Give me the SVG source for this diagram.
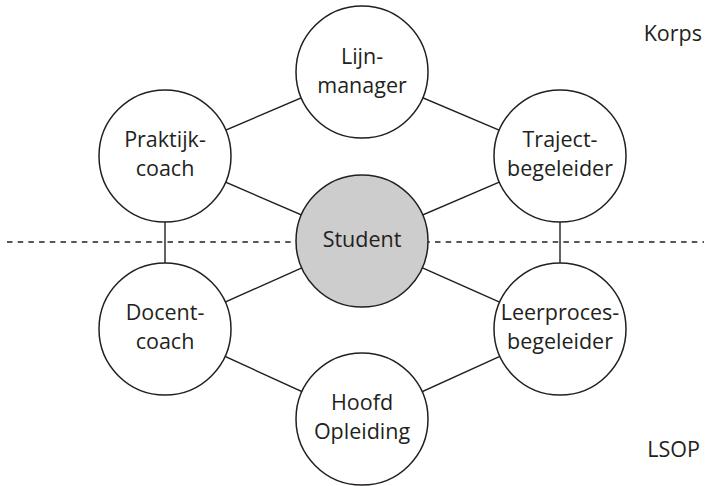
<svg xmlns="http://www.w3.org/2000/svg" width="707" height="486" viewBox="0 0 707 486">
  <style>
    .bg { fill: #ffffff; }
    .edge { stroke: #231f20; stroke-width: 1.4; fill: none; }
    .divider { stroke: #231f20; stroke-width: 1.4; stroke-dasharray: 5.5 5.2; fill: none; }
    .node { fill: #ffffff; stroke: #231f20; stroke-width: 1.5; }
    .node.center { fill: #cdcdcd; }
    text { font-family: "Open Sans", "Noto Sans", "Liberation Sans", sans-serif; font-size: 21.5px; fill: #231f20; }
    .lbl { text-anchor: middle; }
    .zone { text-anchor: end; }
  </style>
  <rect class="bg" x="0" y="0" width="707" height="486"/>

  <!-- boundary between Korps (top) and LSOP (bottom) -->
  <line class="divider" x1="7" y1="242" x2="704" y2="242"/>

  <g id="connectors">
    <line class="edge" x1="362" y1="72" x2="165" y2="156"/>
    <line class="edge" x1="362" y1="72" x2="560" y2="156"/>
    <line class="edge" x1="165" y1="156" x2="362" y2="241"/>
    <line class="edge" x1="560" y1="156" x2="362" y2="241"/>
    <line class="edge" x1="165" y1="156" x2="165" y2="329"/>
    <line class="edge" x1="560" y1="156" x2="560" y2="329"/>
    <line class="edge" x1="165" y1="329" x2="362" y2="241"/>
    <line class="edge" x1="560" y1="329" x2="362" y2="241"/>
    <line class="edge" x1="165" y1="329" x2="362" y2="419"/>
    <line class="edge" x1="560" y1="329" x2="362" y2="419"/>
  </g>

  <g id="lijnmanager">
    <circle class="node" cx="362" cy="72" r="66"/>
    <text class="lbl" x="362" y="64">Lijn-</text>
    <text class="lbl" x="362" y="93">manager</text>
  </g>

  <g id="praktijkcoach">
    <circle class="node" cx="165" cy="156" r="66"/>
    <text class="lbl" x="165" y="147">Praktijk-</text>
    <text class="lbl" x="165" y="176">coach</text>
  </g>

  <g id="trajectbegeleider">
    <circle class="node" cx="560" cy="156" r="66"/>
    <text class="lbl" x="560" y="147">Traject-</text>
    <text class="lbl" x="560" y="176">begeleider</text>
  </g>

  <g id="student">
    <circle class="node center" cx="362" cy="241" r="66"/>
    <text class="lbl" x="362" y="247">Student</text>
  </g>

  <g id="docentcoach">
    <circle class="node" cx="165" cy="329" r="66"/>
    <text class="lbl" x="165" y="320">Docent-</text>
    <text class="lbl" x="165" y="349">coach</text>
  </g>

  <g id="leerprocesbegeleider">
    <circle class="node" cx="560" cy="329" r="66"/>
    <text class="lbl" x="560" y="320">Leerproces-</text>
    <text class="lbl" x="560" y="349">begeleider</text>
  </g>

  <g id="hoofd-opleiding">
    <circle class="node" cx="362" cy="419" r="66"/>
    <text class="lbl" x="362" y="410">Hoofd</text>
    <text class="lbl" x="362" y="439">Opleiding</text>
  </g>

  <g id="zones">
    <text class="zone" x="702" y="41">Korps</text>
    <text class="zone" x="700" y="457">LSOP</text>
  </g>
</svg>
